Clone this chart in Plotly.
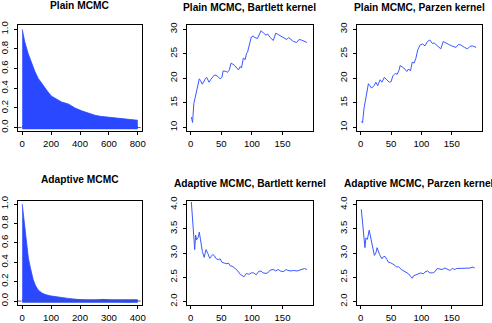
import plotly.graph_objects as go

# ---------------- data ----------------
# Panel 1: ACF, plain MCMC
lags_plain = [0, 18, 42, 65, 88, 111, 134, 157, 180, 203, 238, 273, 319, 365, 412, 458, 504, 539, 597, 666, 735, 800]
acf_plain = [1.0, 0.87, 0.75, 0.65, 0.57, 0.50, 0.45, 0.40, 0.36, 0.32, 0.29, 0.26, 0.24, 0.20, 0.17, 0.145, 0.125, 0.115, 0.108, 0.098, 0.084, 0.074]

# Panel 4: ACF, adaptive MCMC
lags_adapt = [0, 3.5, 9, 15, 21, 27, 32, 38, 46, 55, 67, 79, 96, 113, 136, 160, 183, 200, 217, 240, 264, 281, 298, 321, 344, 367, 390, 400]
acf_adapt = [1.0, 0.91, 0.72, 0.57, 0.45, 0.36, 0.28, 0.22, 0.16, 0.115, 0.085, 0.068, 0.054, 0.044, 0.037, 0.027, 0.02, 0.01, 0.003, 0.0, 0.01, 0.017, 0.01, -0.003, -0.007, -0.01, -0.003, 0.0]

# Panel 2: plain MCMC, Bartlett kernel
x_pb = [1, 3, 5, 8, 11, 14, 16, 19, 23, 26, 30, 33, 39, 43, 48, 51, 53, 58, 60, 63, 66, 71, 78, 81, 83, 86, 89, 91, 93, 96,
        99, 102, 105, 109, 112, 115, 119, 123, 126, 130, 135, 139, 143, 148, 153, 157, 160, 164, 168, 173, 177, 181, 185, 190]
y_pb = [12.1, 11.0, 14.8, 16.6, 18.5, 19.9, 19.5, 18.8, 19.7, 20.2, 19.2, 19.8, 20.7, 20.5, 19.9, 20.2, 21.5, 21.4, 21.2, 21.7,
        23.1, 22.7, 21.7, 22.4, 22.1, 24.1, 23.8, 25.0, 25.4, 27.3, 28.4, 28.6, 28.3, 28.1, 28.8, 29.7, 29.2, 28.8, 29.0, 28.3,
        27.7, 29.2, 28.9, 28.6, 28.3, 27.9, 28.3, 27.9, 27.5, 27.3, 27.9, 27.8, 27.5, 27.3]

# Panel 3: plain MCMC, Parzen kernel
x_pp = [1, 3, 5.5, 8, 11, 12.7, 15, 18, 22, 25, 28, 32, 35, 39, 43, 47, 50, 53, 57, 60, 63, 65, 71, 76, 79, 82, 85, 88, 91, 94,
        98, 102, 106, 110, 114, 118, 121, 127, 132, 136, 141, 145, 150, 157, 161, 165, 171, 176, 180, 184, 190]
y_pp = [11.2, 10.9, 13.9, 15.6, 17.0, 18.9, 18.5, 18.0, 18.5, 19.2, 18.5, 19.7, 19.2, 20.2, 19.7, 19.2, 19.3, 20.5, 21.0, 20.8,
        21.6, 22.6, 22.1, 21.4, 21.9, 21.5, 23.3, 23.1, 24.1, 25.8, 26.8, 27.0, 26.6, 27.5, 27.8, 27.1, 27.2, 26.6, 26.0, 27.5,
        27.1, 26.9, 26.6, 26.3, 26.9, 26.8, 26.3, 26.0, 26.5, 26.6, 26.3]

# Panel 5: adaptive MCMC, Bartlett kernel
x_ab = [1, 3, 4.5, 6.5, 8, 9.5, 12, 14, 16, 19, 22, 25, 28, 31, 36, 39, 41, 45, 48, 51, 55, 59, 62, 64, 69, 73, 77, 81, 85, 87,
        91, 95, 99, 103, 107, 111, 115, 118, 123, 126, 130, 135, 139, 143, 148, 152, 156, 159, 164, 168, 174, 178, 182, 186, 190]
y_ab = [4.05, 3.74, 3.47, 3.07, 3.37, 3.27, 3.32, 3.43, 3.27, 3.03, 2.91, 3.07, 2.99, 2.89, 2.97, 2.94, 2.89, 2.86, 2.88, 2.81,
        2.79, 2.78, 2.79, 2.74, 2.72, 2.68, 2.63, 2.56, 2.53, 2.51, 2.58, 2.56, 2.59, 2.59, 2.55, 2.62, 2.63, 2.59, 2.58, 2.59,
        2.65, 2.66, 2.63, 2.66, 2.62, 2.62, 2.66, 2.64, 2.63, 2.64, 2.63, 2.65, 2.66, 2.68, 2.66]

# Panel 6: adaptive MCMC, Parzen kernel
x_ap = [1, 3, 5.5, 7, 8.5, 11, 14, 17, 20, 22.5, 25, 27, 31, 35, 37, 40, 43, 45.5, 49, 52, 56, 59, 62, 67, 71, 75, 79, 82, 85, 87,
        91, 95, 99, 103, 106, 110, 114, 118, 122, 126, 131, 134, 139, 143, 147, 151, 155, 158, 164, 169, 175, 180, 185, 188]
y_ap = [3.90, 3.62, 3.28, 3.11, 3.31, 3.28, 3.47, 3.28, 3.07, 2.95, 3.00, 3.11, 2.97, 2.88, 2.92, 2.93, 2.87, 2.81, 2.80, 2.78,
        2.75, 2.71, 2.72, 2.66, 2.63, 2.61, 2.57, 2.52, 2.48, 2.53, 2.55, 2.56, 2.59, 2.57, 2.61, 2.63, 2.59, 2.59, 2.61, 2.68,
        2.66, 2.66, 2.69, 2.66, 2.64, 2.68, 2.66, 2.68, 2.68, 2.68, 2.68, 2.69, 2.71, 2.69]

titles = ["Plain MCMC", "Plain MCMC, Bartlett kernel", "Plain MCMC, Parzen kernel",
          "Adaptive MCMC", "Adaptive MCMC, Bartlett kernel", "Adaptive MCMC, Parzen kernel"]
acf_xticks_plain = [0, 200, 400, 600, 800]
acf_xticks_adapt = [0, 100, 200, 300, 400]
acf_yticks = [0.0, 0.2, 0.4, 0.6, 0.8, 1.0]
run_xticks = [0, 50, 100, 150]
plain_yticks = [10, 15, 20, 25, 30]
adapt_yticks = [2.0, 2.5, 3.0, 3.5, 4.0]

# ---------------- layout geometry (pixels) ----------------
W, H = 492, 323
cols = [(17.6, 142.4), (186.7, 312.7), (356.7, 481.7)]
rows = [(25.3, 131.3), (200.6, 305.4)]
title_y = [[5.3, 7.0, 7.0], [179.2, 183.2, 183.2]]

FILL = "#2a48ff"
LINE = "#3a58ff"
FONT = "Liberation Sans, Arial, Helvetica, sans-serif"

fig = go.Figure()

panels = [
    dict(kind="acf", x=lags_plain, y=acf_plain, xr=[-32, 832], yr=[-0.038, 1.041],
         xt=acf_xticks_plain, yt=acf_yticks, yfmt=".1f"),
    dict(kind="line", x=x_pb, y=y_pb, xr=[-6.6, 199.4], yr=[9.2, 30.8],
         xt=run_xticks, yt=plain_yticks, yfmt="d"),
    dict(kind="line", x=x_pp, y=y_pp, xr=[-6.6, 199.4], yr=[9.2, 30.8],
         xt=run_xticks, yt=plain_yticks, yfmt="d"),
    dict(kind="acf", x=lags_adapt, y=acf_adapt, xr=[-16, 416], yr=[-0.045, 1.036],
         xt=acf_xticks_adapt, yt=acf_yticks, yfmt=".1f"),
    dict(kind="line", x=x_ab, y=y_ab, xr=[-6.6, 199.4], yr=[1.92, 4.08],
         xt=run_xticks, yt=adapt_yticks, yfmt=".1f"),
    dict(kind="line", x=x_ap, y=y_ap, xr=[-6.6, 199.4], yr=[1.92, 4.08],
         xt=run_xticks, yt=adapt_yticks, yfmt=".1f"),
]

annotations = []
for i, p in enumerate(panels):
    r, c = divmod(i, 3)
    n = "" if i == 0 else str(i + 1)
    xa, ya = "x" + n, "y" + n
    x0, x1 = cols[c]
    y0, y1 = rows[r]

    if p["kind"] == "acf":
        fig.add_trace(go.Scatter(x=p["x"], y=p["y"], mode="lines", fill="tozeroy",
                                 fillcolor=FILL, line=dict(color=FILL, width=0.8),
                                 xaxis=xa, yaxis=ya, showlegend=False, hoverinfo="skip"))
        # zero band and dashed reference line
        fig.add_trace(go.Scatter(x=[p["x"][0], p["x"][-1]], y=[0, 0], mode="lines",
                                 line=dict(color=FILL, width=3.5),
                                 xaxis=xa, yaxis=ya, showlegend=False, hoverinfo="skip"))
        fig.add_trace(go.Scatter(x=[p["xr"][0], p["xr"][1]], y=[0, 0], mode="lines",
                                 line=dict(color="#555555", width=1, dash="4px,3px"),
                                 xaxis=xa, yaxis=ya, showlegend=False, hoverinfo="skip"))
    else:
        fig.add_trace(go.Scatter(x=p["x"], y=p["y"], mode="lines",
                                 line=dict(color=LINE, width=1),
                                 xaxis=xa, yaxis=ya, showlegend=False, hoverinfo="skip"))

    common = dict(showline=True, mirror=True, linecolor="black", linewidth=1,
                  ticks="outside", ticklen=3, tickcolor="black", tickwidth=1,
                  showgrid=False, zeroline=False, fixedrange=True, automargin=False,
                  tickfont=dict(family=FONT, size=9.6, color="black"))
    fig.update_layout(**{
        ("xaxis" + n): dict(domain=[x0 / W, x1 / W], range=p["xr"], anchor=ya,
                            tickvals=p["xt"], ticktext=[str(v) for v in p["xt"]],
                            ticklabelstandoff=0, **common),
        ("yaxis" + n): dict(domain=[1 - y1 / H, 1 - y0 / H], range=p["yr"], anchor=xa,
                            tickvals=p["yt"], tickformat=p["yfmt"], tickangle=-90,
                            ticklabelstandoff=2, **common),
    })
    annotations.append(dict(text="<b>" + titles[i] + "</b>", xref="paper", yref="paper",
                            x=(x0 + x1) / 2 / W, y=1 - title_y[r][c] / H,
                            xanchor="center", yanchor="middle", showarrow=False,
                            font=dict(family=FONT, size=10.2, color="black")))

fig.update_layout(width=W, height=H, margin=dict(l=0, r=0, t=0, b=0, autoexpand=False),
                  paper_bgcolor="white", plot_bgcolor="white",
                  annotations=annotations, showlegend=False)

fig.write_html("out.html", config={"displayModeBar": False},
               post_script="document.body.style.margin='0px';document.body.style.padding='0px';")
